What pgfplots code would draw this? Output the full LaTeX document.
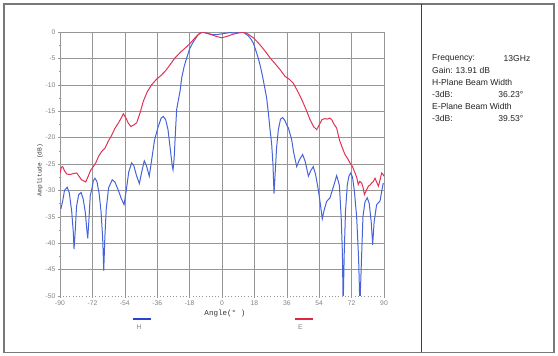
\documentclass[border=0pt]{standalone}
\usepackage{fontspec}
\setmainfont{Liberation Sans}
\newfontfamily\monofont{Liberation Mono}
\usepackage{pgfplots}
\pgfplotsset{compat=1.18}
\definecolor{hblue}{RGB}{70,100,215}
\definecolor{ered}{RGB}{225,50,85}
\definecolor{legblue}{RGB}{40,70,205}
\definecolor{legred}{RGB}{220,40,65}
\definecolor{gridgray}{RGB}{150,150,150}
\definecolor{ticktext}{RGB}{130,130,130}
\definecolor{framegray}{RGB}{120,120,120}
\definecolor{paneltext}{RGB}{35,35,35}

\pgfplotstableread{
deg dB
-89.5 -33.5
-88.5 -32
-87.5 -30
-86.0 -29.4
-84.8 -30.5
-83.5 -34
-82.6 -38
-82.2 -41.1
-81.6 -38
-80.8 -33
-79.6 -30.8
-78.3 -30.4
-77.2 -31.5
-76.0 -34
-75.2 -37
-74.6 -39.1
-74.0 -36
-73.2 -31
-72.4 -29.9
-71.5 -28.2
-70.6 -27.7
-69.5 -28.3
-68.3 -30.5
-67.2 -34
-66.3 -39
-65.7 -45.2
-65.1 -39
-64.3 -33.5
-63.0 -29.5
-61.0 -28
-59.5 -28.4
-57.8 -29.8
-56.0 -31.5
-54.4 -32.7
-53.2 -30
-51.8 -26.5
-50.2 -24.8
-49.0 -25.3
-47.5 -27.2
-45.9 -28.7
-44.6 -26.5
-43.2 -24.4
-42.0 -25.3
-40.4 -27.3
-39.2 -24.5
-37.5 -20.5
-35.5 -18.0
-33.8 -16.3
-32.6 -16.0
-31.3 -16.6
-30.0 -18.5
-28.8 -22
-27.6 -25.5
-27.2 -26.1
-26.6 -24
-25.8 -18.5
-25.2 -14.7
-24.2 -12.8
-23.3 -11.2
-22.4 -8.7
-21.0 -6.5
-19.6 -4.9
-18.0 -3.2
-16.5 -2.2
-15.0 -1.4
-13.5 -0.6
-12.0 -0.2
-10.4 0
-8.5 -0.2
-6.5 -0.4
-4.8 -0.5
-3.0 -0.5
-1.0 -0.4
1.0 -0.3
2.6 -0.2
4.4 -0.1
6.5 -0.2
8.5 -0.1
10.9 0
12.5 -0.2
14.5 -0.7
16.0 -1.3
17.4 -2.1
18.8 -3.5
20.0 -4.8
21.1 -6.2
22.3 -8
23.6 -10.3
24.8 -12.5
25.8 -15.5
26.7 -18.5
27.6 -21.3
28.3 -25
28.9 -30.6
29.5 -27
30.3 -22
31.3 -18.5
32.5 -16.5
33.7 -16.2
35.0 -16.8
36.2 -17.8
36.9 -18.2
37.8 -19.3
38.7 -20.4
39.8 -22.8
41.5 -25.5
43.0 -24.2
44.8 -23.2
46.2 -24.5
48.0 -27.3
49.4 -26.2
50.7 -25.5
52.0 -27
53.5 -29.9
54.8 -33
55.7 -35.4
56.7 -33.8
58.1 -32.1
60.0 -31.4
61.8 -29.4
63.7 -27.2
65.2 -29
66.2 -35
66.9 -42
67.3 -52
67.9 -42
68.6 -34
69.6 -29
70.5 -27.3
71.5 -26.7
72.5 -27.5
73.5 -30
74.8 -35
75.9 -43
76.6 -52
77.5 -43
78.3 -35
79.4 -32.2
80.7 -31.4
81.8 -32.5
82.9 -36
83.7 -40.3
84.5 -36
85.9 -32.7
87.8 -32
88.8 -30
89.6 -28.6
}\Hdata

\pgfplotstableread{
deg dB
-90.0 -26.7
-89.2 -25.6
-88.5 -25.5
-87.5 -26.3
-86.2 -26.9
-84.4 -27
-82.5 -26.8
-80.7 -26.7
-79.5 -27.3
-78.0 -28
-76.8 -28.2
-75.7 -28.4
-74.3 -27.3
-73.0 -26.2
-71.5 -25.5
-70.0 -24.7
-68.5 -23.5
-66.8 -22.6
-65.0 -22
-63.2 -20.7
-61.5 -19.7
-59.4 -18.2
-57.5 -17.2
-56.0 -16.3
-54.8 -15.5
-53.5 -16.2
-52.0 -17.3
-50.6 -17.9
-49.0 -17.6
-47.4 -17.2
-45.5 -15.3
-43.7 -13.1
-41.5 -11.3
-39.1 -10
-36.5 -9.0
-33.5 -8.1
-31.0 -7.2
-28.9 -6.2
-26.1 -4.9
-23.0 -3.8
-20.0 -2.9
-17.8 -2.2
-15.5 -1.3
-13.3 -0.5
-11.3 0
-9.0 -0.2
-6.7 -0.4
-3.5 -0.8
-0.2 -1.1
3.0 -0.8
6.3 -0.4
9.0 -0.2
11.8 0
14.5 -0.4
17.4 -1.1
20.0 -2
22.5 -3
24.8 -4
26.7 -4.9
29.0 -5.8
32.2 -7.1
35.0 -8.4
37.5 -9.0
39.6 -9.7
42.0 -11.2
44.3 -12.8
46.5 -14.5
48.9 -16.6
50.8 -17.9
52.6 -18.5
54.0 -17.6
55.5 -16.6
57.2 -16.4
58.5 -16.5
59.8 -16.3
60.9 -16.6
62.3 -17.5
63.7 -18.2
65.2 -20.4
66.5 -21.6
68.3 -23.2
69.5 -23.8
71.1 -24.8
72.5 -25.5
73.9 -26.7
74.8 -27.5
75.7 -28.9
76.5 -28.3
77.6 -28.6
78.4 -29.5
79.1 -30.8
80.2 -30
81.3 -29.2
82.2 -29
83.1 -28.6
84.1 -28.3
85.0 -27.7
86.0 -28.5
86.9 -29.2
87.8 -28
88.7 -26.7
89.5 -27
90.0 -27.3
}\Edata

\begin{document}
\begin{tikzpicture}
\useasboundingbox (0,0) rectangle (558bp,356bp);
\draw[framegray, line width=1.5bp] (3.8bp,3.6bp) rectangle (554.2bp,352.2bp);
\draw[black!75, line width=0.9bp] (421.5bp,3.6bp) -- (421.5bp,352.2bp);
\begin{axis}[
  at={(60bp,60bp)}, anchor=south west,
  scale only axis, width=324bp, height=264bp,
  xmin=-90, xmax=90, ymin=-50, ymax=0,
  xtick={-90,-72,...,90}, ytick={-45,-40,...,0},
  extra y ticks={-50}, extra y tick style={grid=none},
  minor x tick num=9, minor y tick num=1,
  grid=major,
  major grid style={gridgray, line width=0.6bp},
  axis line style={draw=none},
  tick align=outside, xtick pos=left, ytick pos=left,
  major tick length=2bp, minor tick length=1.5bp,
  every tick/.style={gridgray, line width=0.5bp},
  every minor tick/.style={gridgray, line width=0.6bp},
  /pgf/number format/assume math mode=true,
  tick label style={font=\fontsize{6.8}{8}\selectfont, text=ticktext},
  xticklabel style={yshift=1bp},
  yticklabel style={xshift=1bp},
  xlabel={Angle(° )},
  xlabel style={font=\monofont\fontsize{7.6}{9}\selectfont, text=black!80, at={(axis description cs:0.509,-0.065)}, anchor=center},
  ylabel={Amplitude (dB)},
  ylabel style={font=\monofont\fontsize{6.2}{8}\selectfont, text=black!80, at={(axis description cs:-0.062,0.477)}, anchor=center},
]
\addplot[hblue, line width=1bp] table[x=deg, y=dB] {\Hdata};
\addplot[ered, line width=1bp] table[x=deg, y=dB] {\Edata};
\end{axis}
\draw[legblue, line width=2.6bp] (132.5bp,37bp) -- (150.5bp,37bp);
\node[font=\fontsize{6.8}{8}\selectfont, text=ticktext] at (139bp,29.3bp) {H};
\draw[legred, line width=2.6bp] (294.5bp,37bp) -- (313bp,37bp);
\node[font=\fontsize{6.8}{8}\selectfont, text=ticktext] at (300.5bp,29.3bp) {E};
\begin{scope}[every node/.style={font=\fontsize{8.6}{10}\selectfont, text=paneltext, inner sep=0pt}]
\node[anchor=west] at (432bp,297.6bp) {Frequency:};
\node[anchor=east] at (530.5bp,297.6bp) {13GHz};
\node[anchor=west] at (432bp,285.3bp) {Gain:};
\node[anchor=west] at (455.5bp,285.3bp) {13.91 dB};
\node[anchor=west] at (432bp,273.3bp) {H-Plane Beam Width};
\node[anchor=west] at (432bp,261.7bp) {-3dB:};
\node[anchor=east] at (523.5bp,261.7bp) {36.23°};
\node[anchor=west] at (432bp,249.3bp) {E-Plane Beam Width};
\node[anchor=west] at (432bp,237.7bp) {-3dB:};
\node[anchor=east] at (523.5bp,237.7bp) {39.53°};
\end{scope}
\end{tikzpicture}
\end{document}
